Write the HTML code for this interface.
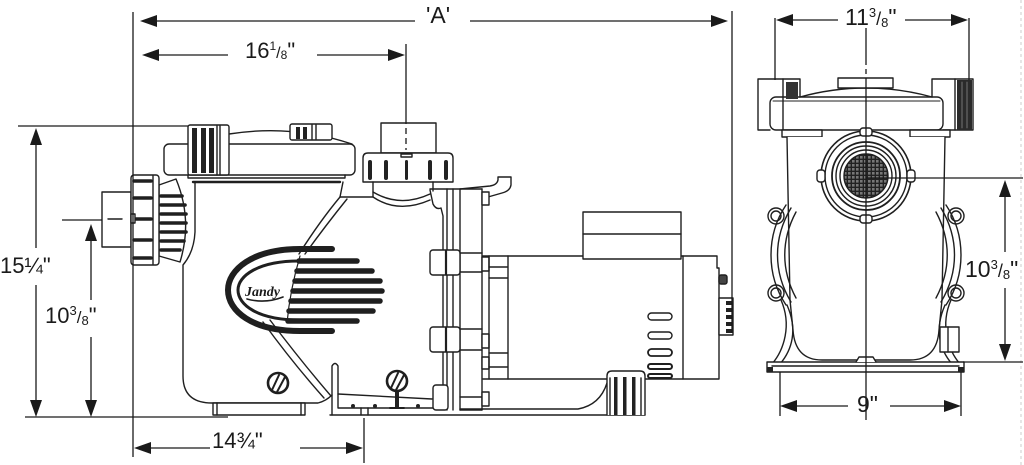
<!DOCTYPE html>
<html><head><meta charset="utf-8"><style>
html,body{margin:0;padding:0;background:#fff;}
svg{display:block;}
text{font-family:"Liberation Sans",Arial,sans-serif;fill:#1a1a1a;}
</style></head><body>
<svg width="1024" height="465" viewBox="0 0 1024 465" xmlns="http://www.w3.org/2000/svg">
<defs>
<pattern id="gr" width="4" height="4" patternUnits="userSpaceOnUse"><rect width="4" height="4" fill="#222"/><rect width="2.6" height="2.6" fill="#777"/></pattern>
</defs>
<rect width="1024" height="465" fill="#fff"/>
<line x1="1021" y1="0" x2="1021" y2="465" stroke="#ccc" stroke-width="1" stroke-dasharray="3 3"/>

<g fill="none" stroke="#1f1f1f" stroke-width="1.4" stroke-linejoin="round" stroke-linecap="round">
<!-- ===== LEFT SIDE VIEW ===== -->
<!-- lid -->
<rect x="164" y="144" width="191" height="31" rx="5" fill="#fff"/>
<path d="M229,134 Q292,124 352,144"/>
<rect x="188" y="125" width="41" height="50" rx="2" fill="#fff"/>
<rect x="192" y="128" width="5" height="45" fill="#222" stroke="none"/>
<rect x="201" y="128" width="5" height="45" fill="#222" stroke="none"/>
<rect x="209" y="128" width="5" height="45" fill="#222" stroke="none"/>
<line x1="217" y1="126" x2="217" y2="175"/><line x1="220" y1="126" x2="220" y2="175"/>
<rect x="290" y="124" width="42" height="16" rx="2" fill="#fff"/>
<rect x="296" y="127" width="4" height="12" fill="#222" stroke="none"/>
<rect x="303" y="127" width="4" height="12" fill="#222" stroke="none"/>
<line x1="312" y1="125" x2="312" y2="139"/><line x1="316" y1="125" x2="316" y2="139"/>
<path d="M188,175 L188,178 L345,178 L345,175"/>
<line x1="193" y1="182" x2="340" y2="182" stroke-width="2.4"/>

<!-- body -->
<path d="M195,182 L195,232 Q194,252 183,265 L183,376 Q183,403 212,403 L318,403 Q326,401 332,395"/>
<path d="M343,182 L340,197"/>
<rect x="213" y="403" width="92" height="12" fill="#fff"/>
<line x1="217" y1="403" x2="217" y2="415"/><line x1="301" y1="403" x2="301" y2="415"/>

<!-- inlet -->
<rect x="102" y="192" width="29" height="55" fill="#fff"/>
<line x1="108" y1="219" x2="122" y2="219"/>
<path d="M159,185 L176,179 Q193,220 180,262 L159,256 Z" fill="#fff"/>
<g stroke-width="3.6">
<line x1="161" y1="196" x2="182" y2="196"/><line x1="161" y1="205" x2="185" y2="205"/>
<line x1="161" y1="214" x2="186" y2="214"/><line x1="161" y1="223" x2="186" y2="223"/>
<line x1="161" y1="232" x2="186" y2="232"/><line x1="161" y1="241" x2="184" y2="241"/>
<line x1="161" y1="250" x2="180" y2="250"/>
</g>
<rect x="131" y="175" width="28" height="90" rx="3" fill="#fff"/>
<line x1="153" y1="176" x2="153" y2="264"/>
<g stroke-width="3.6">
<line x1="134" y1="181" x2="151" y2="181"/><line x1="134" y1="198" x2="151" y2="198"/>
<line x1="136" y1="219" x2="151" y2="219"/><line x1="134" y1="240" x2="151" y2="240"/>
<line x1="134" y1="258" x2="151" y2="258"/>
</g>
<rect x="131" y="214" width="4" height="9" fill="#fff"/>

<!-- volute lines -->
<path d="M340,197 Q320,221 299,254"/>
<path d="M347,199 Q326,225 305,254"/>
<path d="M263,322 Q292,362 324,398"/>
<path d="M270,320 Q300,360 331,396"/>

<!-- logo -->
<path d="M332,249 L300,249 C252,249 228,270 228,290 C228,311 252,331 300,331 L332,331" stroke-width="6"/>
<path d="M299,261 C258,261 238,276 238,290 C238,305 258,320 300,320" stroke-width="3"/>
<path d="M300,256 Q290,290 287,323" stroke-width="1.2"/>
<g stroke-width="5.5">
<line x1="299" y1="261" x2="357" y2="261"/>
<line x1="297" y1="271" x2="372" y2="271"/>
<line x1="295" y1="281" x2="380" y2="281"/>
<line x1="293" y1="291" x2="382" y2="291"/>
<line x1="291" y1="301" x2="380" y2="301"/>
<line x1="289" y1="311" x2="373" y2="311"/>
<line x1="288" y1="321" x2="357" y2="321"/>
</g>
<path d="M247,299 Q265,304 283,297" stroke-width="1.6"/>

<!-- screws -->
<circle cx="278" cy="383" r="10" stroke-width="2.6" fill="#fff"/>
<path d="M272,390 L279,375 M277,392 L285,377" stroke-width="2"/>
<rect x="395" y="390" width="4" height="18" fill="#222" stroke="none"/>
<path d="M390,408 L404,408" stroke-width="2"/>
<circle cx="397" cy="381" r="10" stroke-width="2.6" fill="#fff"/>
<path d="M391,388 L398,373 M396,390 L404,375" stroke-width="2"/>

<!-- pan -->
<path d="M332,415 L332,366 Q335,361 338,366 L338,408 L445,408"/>
<path d="M338,394 L432,399"/>
<circle cx="353" cy="406" r="2" fill="#222" stroke="none"/>
<circle cx="375" cy="406" r="2" fill="#222" stroke="none"/>
<circle cx="418" cy="406" r="2" fill="#222" stroke="none"/>
<line x1="361" y1="408" x2="361" y2="415"/><line x1="368" y1="408" x2="368" y2="415"/>
<line x1="330" y1="415" x2="645" y2="415"/>

<!-- discharge -->
<rect x="381" y="123" width="55" height="30" fill="#fff"/>
<path d="M363,182 L363,158 Q363,153 368,153 L448,153 Q453,153 453,158 L453,182 Z" fill="#fff"/>
<rect x="368" y="160" width="4" height="20" rx="2" fill="#222" stroke="none"/>
<rect x="384" y="160" width="4" height="20" rx="2" fill="#222" stroke="none"/>
<rect x="405" y="160" width="3" height="20" rx="1.5" fill="#222" stroke="none"/>
<rect x="428" y="160" width="4" height="20" rx="2" fill="#222" stroke="none"/>
<rect x="444" y="160" width="4" height="20" rx="2" fill="#222" stroke="none"/>
<rect x="401" y="154" width="11" height="3" fill="#fff"/>
<path d="M373,182 L373,197 M433,182 L433,191"/>
<path d="M340,197 L373,197 Q398,214 430,200"/>
<path d="M373,192 Q400,208 430,194"/>

<!-- seal plate -->
<path d="M430,190 L433,204 Q436,210 441,208 L443,216 L443,388"/>
<line x1="430" y1="189" x2="482" y2="189"/>
<line x1="447" y1="189" x2="447" y2="410"/>
<line x1="453" y1="189" x2="453" y2="410"/>
<line x1="460" y1="189" x2="460" y2="410"/>
<line x1="482" y1="189" x2="482" y2="410"/>
<path d="M460,189 L490,186 Q497,185 498,180 L498,177 L511,177 L511,185 Q510,191 502,193 L488,197"/>
<rect x="430" y="250" width="30" height="25" rx="3" fill="#fff"/>
<line x1="446" y1="251" x2="446" y2="274" stroke-width="2.2"/>
<line x1="460" y1="253" x2="482" y2="253"/><line x1="460" y1="272" x2="482" y2="272"/>
<rect x="430" y="327" width="30" height="25" rx="3" fill="#fff"/>
<line x1="446" y1="328" x2="446" y2="351" stroke-width="2.2"/>
<line x1="460" y1="329" x2="482" y2="329"/><line x1="460" y1="350" x2="482" y2="350"/>
<rect x="433" y="385" width="15" height="25" rx="3" fill="#fff"/>
<line x1="460" y1="397" x2="482" y2="397"/>
<rect x="482" y="192" width="7" height="13" fill="#fff"/>
<rect x="482" y="257" width="7" height="14" fill="#fff"/>
<rect x="482" y="334" width="7" height="14" fill="#fff"/>
<rect x="482" y="357" width="7" height="12" fill="#fff"/>
<rect x="482" y="392" width="7" height="14" fill="#fff"/>
<path d="M482,410 L460,410"/>

<!-- motor adapter -->
<path d="M483,256 L508,256 M483,379 L508,379 M489,267 L508,267 M489,278 L508,278 M489,353 L508,353 M489,367 L508,367"/>
<line x1="489" y1="256" x2="489" y2="379"/>
<!-- base under motor -->
<path d="M460,409 L578,409 Q600,405 607,383"/>

<!-- motor -->
<rect x="508" y="256" width="175" height="123" fill="#fff"/>
<path d="M683,256 L717,256 L717,268 L719,268 L719,379 L683,379"/>
<rect x="583" y="212" width="98" height="47" fill="#fff"/>
<line x1="583" y1="234" x2="681" y2="234"/>
<rect x="719" y="275" width="8" height="9" rx="2" fill="#444"/>
<rect x="719" y="298" width="14" height="37" fill="#fff"/>
<rect x="726" y="301" width="7" height="4" fill="#222" stroke="none"/>
<rect x="726" y="308" width="7" height="4" fill="#222" stroke="none"/>
<rect x="726" y="315" width="7" height="4" fill="#222" stroke="none"/>
<rect x="726" y="322" width="7" height="4" fill="#222" stroke="none"/>
<rect x="726" y="329" width="7" height="4" fill="#222" stroke="none"/>
<rect x="648" y="313" width="24" height="7" rx="3.5"/>
<rect x="648" y="332" width="24" height="7" rx="3.5"/>
<rect x="648" y="349" width="24" height="7" rx="3.5" stroke-width="1.8"/>
<rect x="648" y="364" width="24" height="5" rx="2.5" stroke-width="2"/>
<rect x="648" y="374" width="24" height="4" rx="2" stroke-width="2"/>
<!-- motor foot -->
<path d="M607,415 L607,376 Q607,371 612,371 L640,371 Q645,371 645,376 L645,415" fill="#fff"/>
<rect x="614" y="377" width="3.5" height="38" fill="#222" stroke="none"/>
<rect x="623" y="377" width="3.5" height="38" fill="#222" stroke="none"/>
<rect x="632" y="377" width="3.5" height="38" fill="#222" stroke="none"/>
<line x1="610" y1="378" x2="610" y2="415"/><line x1="641" y1="378" x2="641" y2="415"/>

<!-- ===== RIGHT FRONT VIEW ===== -->
<rect x="770" y="97" width="173" height="33" rx="6" fill="#fff"/>
<line x1="773" y1="101" x2="940" y2="101" stroke-width="1"/>
<path d="M800,97 Q866,79 932,97"/>
<rect x="838" y="78" width="55" height="10" fill="#fff"/>
<path d="M800,97 L800,79 L758,79 L758,130 L770,130"/>
<line x1="783" y1="79" x2="783" y2="130"/>
<rect x="786" y="82" width="12" height="17" fill="#333" stroke="none"/>
<path d="M932,97 L932,79 L973,79 L973,130 L943,130"/>
<line x1="955" y1="79" x2="955" y2="130"/>
<rect x="957" y="80" width="15" height="50" fill="#2a2a2a" stroke="none"/>
<line x1="962" y1="82" x2="962" y2="128" stroke="#888" stroke-width="0.8"/>
<line x1="967" y1="82" x2="967" y2="128" stroke="#888" stroke-width="0.8"/>
<rect x="782" y="130" width="40" height="7" fill="#fff"/>
<rect x="910" y="130" width="40" height="7" fill="#fff"/>
<path d="M787,137 L790,300 L793,330 Q795,360 822,360 L910,360 Q937,360 939,330 L942,300 L945,137" fill="#fff"/>
<!-- inlet -->
<circle cx="866" cy="176" r="45" fill="#fff" stroke-width="1.6"/>
<circle cx="866" cy="176" r="41"/>
<circle cx="866" cy="176" r="34" stroke-width="1.8"/>
<circle cx="866" cy="176" r="30"/>
<circle cx="866" cy="176" r="26"/>
<circle cx="866" cy="176" r="22" fill="url(#gr)"/>
<rect x="860" y="128" width="12" height="8" rx="3" fill="#fff"/>
<rect x="860" y="215" width="12" height="8" rx="3" fill="#fff"/>
<rect x="817" y="170" width="8" height="12" rx="3" fill="#fff"/>
<rect x="907" y="170" width="8" height="12" rx="3" fill="#fff"/>
<!-- side handles -->
<g id="hnd">
<circle cx="776" cy="216" r="8" fill="#fff"/><circle cx="776" cy="216" r="5"/>
<circle cx="776" cy="293" r="8" fill="#fff"/><circle cx="776" cy="293" r="5"/>
<path d="M786,205 C766,235 766,275 786,305"/>
<path d="M791,208 C773,238 773,272 791,302"/>
<path d="M796,212 C781,240 781,270 796,298"/>
<path d="M781,300 C792,325 784,350 772,364"/>
<path d="M787,305 C798,330 792,350 780,364"/>
</g>
<use href="#hnd" transform="translate(1732,0) scale(-1,1)"/>
<rect x="940" y="327" width="19" height="25" fill="#fff"/>
<line x1="948" y1="327" x2="948" y2="352"/>
<!-- base -->
<rect x="767" y="362" width="197" height="10" fill="#fff"/>
<line x1="772" y1="366" x2="959" y2="366"/>
<rect x="767" y="367" width="6" height="5" fill="#222" stroke="none"/>
<rect x="958" y="367" width="6" height="5" fill="#222" stroke="none"/>
<path d="M856,362 L859,357 L873,357 L876,362" fill="#fff"/>
</g>

<!-- ===== DIMENSIONS ===== -->
<g stroke="#1a1a1a" stroke-width="1.3" fill="none">
<!-- A -->
<line x1="133" y1="12" x2="133" y2="457"/>
<line x1="732" y1="11" x2="732" y2="333"/>
<line x1="150" y1="21" x2="415" y2="21"/><line x1="470" y1="21" x2="718" y2="21"/>
<!-- 16 1/8 -->
<line x1="152" y1="55" x2="228" y2="55"/><line x1="317" y1="55" x2="395" y2="55"/>
<line x1="406" y1="44" x2="406" y2="118"/>
<line x1="406" y1="118" x2="406" y2="150" stroke-dasharray="6 4"/>
<!-- 15 1/4 -->
<line x1="18" y1="126" x2="188" y2="126"/>
<line x1="36" y1="140" x2="36" y2="248"/><line x1="36" y1="285" x2="36" y2="405"/>
<line x1="25" y1="417" x2="228" y2="417"/>
<!-- 10 3/8 left -->
<line x1="62" y1="220" x2="102" y2="220"/>
<line x1="91" y1="236" x2="91" y2="300"/><line x1="91" y1="337" x2="91" y2="405"/>
<!-- 14 3/4 -->
<line x1="145" y1="448" x2="210" y2="448"/><line x1="300" y1="448" x2="352" y2="448"/>
<line x1="364" y1="418" x2="364" y2="463"/>
<!-- 11 3/8 -->
<line x1="775" y1="18" x2="775" y2="80"/><line x1="969" y1="18" x2="969" y2="80"/>
<line x1="786" y1="20" x2="838" y2="20"/><line x1="905" y1="20" x2="958" y2="20"/>
<!-- center line -->
<line x1="866" y1="28" x2="866" y2="60"/>
<line x1="866" y1="60" x2="866" y2="80" stroke-dasharray="5 4"/>
<line x1="866" y1="80" x2="866" y2="420"/>
<!-- 10 3/8 right -->
<line x1="866" y1="178" x2="1023" y2="178"/>
<line x1="1005" y1="192" x2="1005" y2="252"/><line x1="1005" y1="288" x2="1005" y2="350"/>
<line x1="963" y1="362" x2="1023" y2="362"/>
<!-- 9 -->
<line x1="780" y1="372" x2="780" y2="416"/><line x1="961" y1="372" x2="961" y2="416"/>
<line x1="790" y1="406" x2="848" y2="406"/><line x1="890" y1="406" x2="951" y2="406"/>
</g>
<g fill="#1a1a1a">
<polygon points="140,21 157,15 157,27"/>
<polygon points="728,21 711,15 711,27"/>
<polygon points="142,55 159,49 159,61"/>
<polygon points="405,55 388,49 388,61"/>
<polygon points="36,128 30,145 42,145"/>
<polygon points="36,417 30,400 42,400"/>
<polygon points="91,224 85,241 97,241"/>
<polygon points="91,417 85,400 97,400"/>
<polygon points="134,448 151,442 151,454"/>
<polygon points="363,448 346,442 346,454"/>
<polygon points="776,20 793,14 793,26"/>
<polygon points="968,20 951,14 951,26"/>
<polygon points="1005,180 999,197 1011,197"/>
<polygon points="1005,361 999,344 1011,344"/>
<polygon points="780,406 797,400 797,412"/>
<polygon points="961,406 944,400 944,412"/>
</g>

<!-- labels -->
<text x="426" y="23" font-size="23">'A'</text>
<text x="245" y="58" font-size="22">16<tspan y="50" font-size="12">1</tspan><tspan y="58" font-size="16">/</tspan><tspan y="59" font-size="12">8</tspan><tspan y="58" font-size="22">"</tspan></text>
<text x="0" y="273" font-size="22">15¼"</text>
<text x="45" y="323" font-size="22">10<tspan y="315" font-size="13">3</tspan><tspan y="323" font-size="17">/</tspan><tspan y="325" font-size="13">8</tspan><tspan y="323" font-size="22">"</tspan></text>
<text x="212" y="448" font-size="22">14¾"</text>
<text x="845" y="25" font-size="23">11<tspan y="17" font-size="13">3</tspan><tspan y="25" font-size="18">/</tspan><tspan y="27" font-size="13">8</tspan><tspan y="25" font-size="23">"</tspan></text>
<text x="965" y="277" font-size="23">10<tspan y="269" font-size="13">3</tspan><tspan y="277" font-size="18">/</tspan><tspan y="279" font-size="13">8</tspan><tspan y="277" font-size="23">"</tspan></text>
<text x="857" y="412" font-size="23">9"</text>
<text x="245" y="296" font-size="14" font-weight="bold" font-style="italic" style="font-family:'Liberation Serif',serif">Jandy</text>
</svg>
</body></html>
